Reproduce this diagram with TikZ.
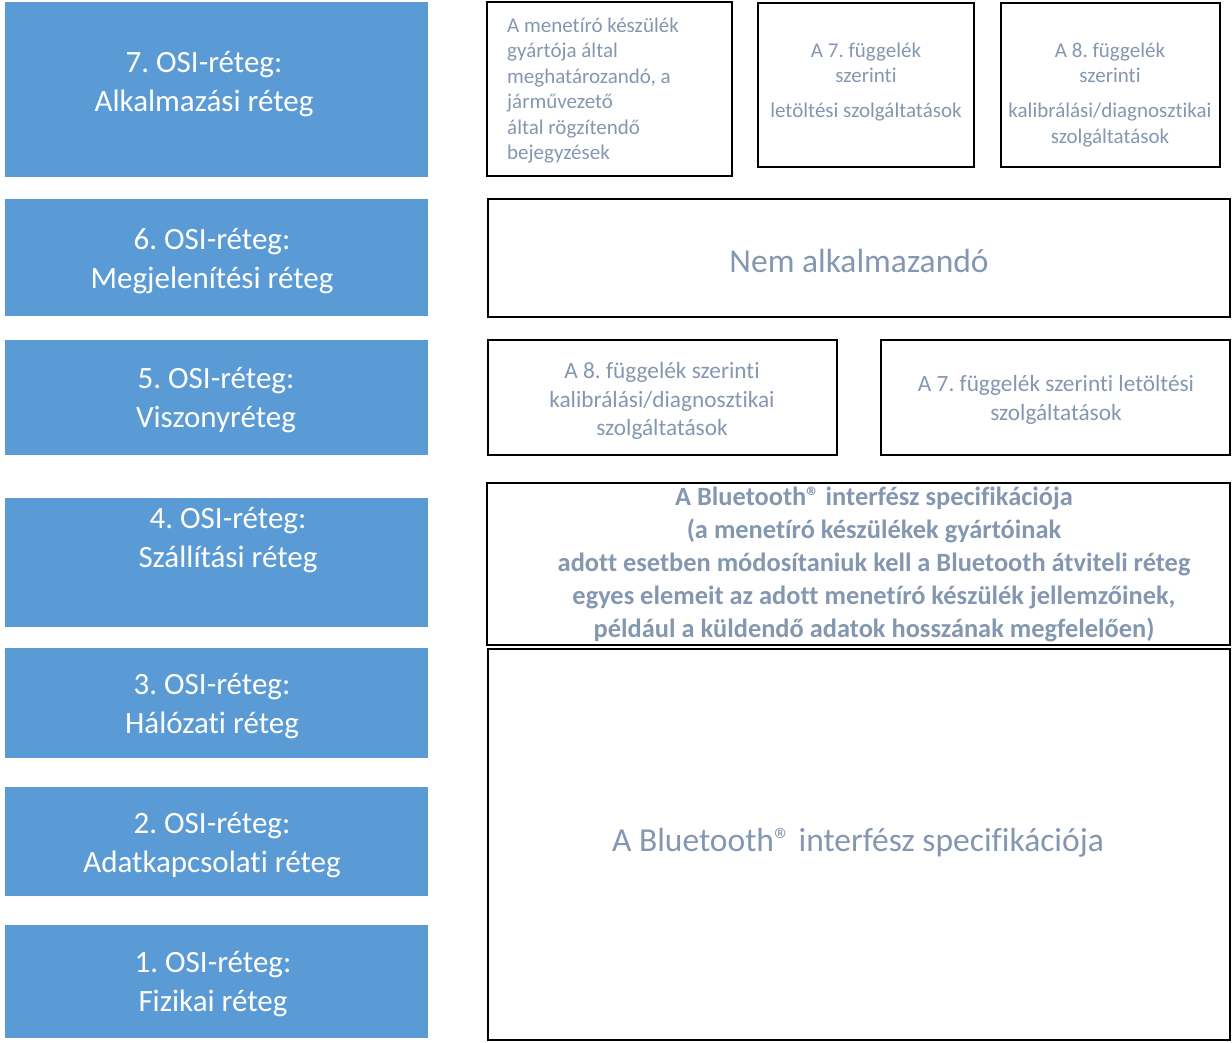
\documentclass[tikz,border=0pt]{standalone}
\usepackage{fontspec}
\setmainfont{Carlito}[Ligatures=CommonOff]
\definecolor{osiblue}{HTML}{5B9BD5}
\definecolor{textgrey}{HTML}{8497B0}
\begin{document}
\frenchspacing
\begin{tikzpicture}[x=1pt,y=-1pt,
        ositext/.style={text=white,align=center,inner sep=0pt,font=\fontsize{31}{39}\selectfont},
        frame/.style={draw=black,line width=1.5pt},
        smalltext/.style={text=textgrey,align=center,inner sep=0pt,font=\fontsize{21}{25.5}\selectfont},
        midtext/.style={text=textgrey,align=center,inner sep=0pt,font=\fontsize{23.3}{28.5}\selectfont},
        bigtext/.style={text=textgrey,align=center,inner sep=0pt,font=\fontsize{33.5}{38}\selectfont}]
    \useasboundingbox (0,0) rectangle (1232,1042);
    % OSI layers
    \fill[osiblue] (5,2) rectangle (428,177);
    \node[ositext] (osi7) at (204,84) {7. OSI-réteg:\\Alkalmazási réteg};
    \fill[osiblue] (5,199) rectangle (428,316);
    \node[ositext] (osi6) at (212,261) {6. OSI-réteg:\\Megjelenítési réteg};
    \fill[osiblue] (5,340) rectangle (428,455);
    \node[ositext] (osi5) at (216,400) {5. OSI-réteg:\\Viszonyréteg};
    \fill[osiblue] (5,498) rectangle (428,627);
    \node[ositext] (osi4) at (228,540) {4. OSI-réteg:\\Szállítási réteg};
    \fill[osiblue] (5,648) rectangle (428,758);
    \node[ositext] (osi3) at (212,706) {3. OSI-réteg:\\Hálózati réteg};
    \fill[osiblue] (5,787) rectangle (428,896);
    \node[ositext] (osi2) at (212,845) {2. OSI-réteg:\\Adatkapcsolati réteg};
    \fill[osiblue] (5,925) rectangle (428,1038);
    \node[ositext] (osi1) at (213,984) {1. OSI-réteg:\\Fizikai réteg};
    % layer 7
    \draw[frame] (487,2) rectangle (732,176);
    \node[smalltext,align=left,anchor=west] (rogzit) at (507,90.5)
        {A menetíró készülék\\gyártója által\\meghatározandó, a\\járművezető\\által rögzítendő\\bejegyzések};
    \draw[frame] (758,3) rectangle (974,167);
    \node[smalltext] (letolt7) at (866,82) {A 7. függelék\\szerinti\\[9.5pt]letöltési szolgáltatások};
    \draw[frame] (1001,3) rectangle (1220,167);
    \node[smalltext] (kalib7) at (1110,95)
        {A 8. függelék\\szerinti\\[9.5pt]kalibrálási/diagnosztikai\\szolgáltatások};
    % layer 6
    \draw[frame] (488,199) rectangle (1230,317);
    \node[bigtext] (nem) at (859,261) {Nem alkalmazandó};
    % layer 5
    \draw[frame] (488,340) rectangle (837,455);
    \node[midtext] (kalib5) at (662,401) {A 8. függelék szerinti\\kalibrálási/diagnosztikai\\szolgáltatások};
    \draw[frame] (881,340) rectangle (1230,455);
    \node[midtext] (letolt5) at (1056,400) {A 7. függelék szerinti letöltési\\szolgáltatások};
    % layer 4
    \draw[frame] (487,483) rectangle (1230,645);
    \node[text=textgrey,align=center,inner sep=0pt,font=\fontsize{26.4}{33}\selectfont\bfseries] (btmod) at (874,564)
        {A Bluetooth® interfész specifikációja\\(a menetíró készülékek gyártóinak\\adott esetben módosítaniuk kell a Bluetooth átviteli réteg\\egyes elemeit az adott menetíró készülék jellemzőinek,\\például a küldendő adatok hosszának megfelelően)};
    % layers 1-3
    \draw[frame] (488,649) rectangle (1230,1040);
    \node[bigtext] (btspec) at (858,843) {A Bluetooth® interfész specifikációja};
\end{tikzpicture}
\end{document}
